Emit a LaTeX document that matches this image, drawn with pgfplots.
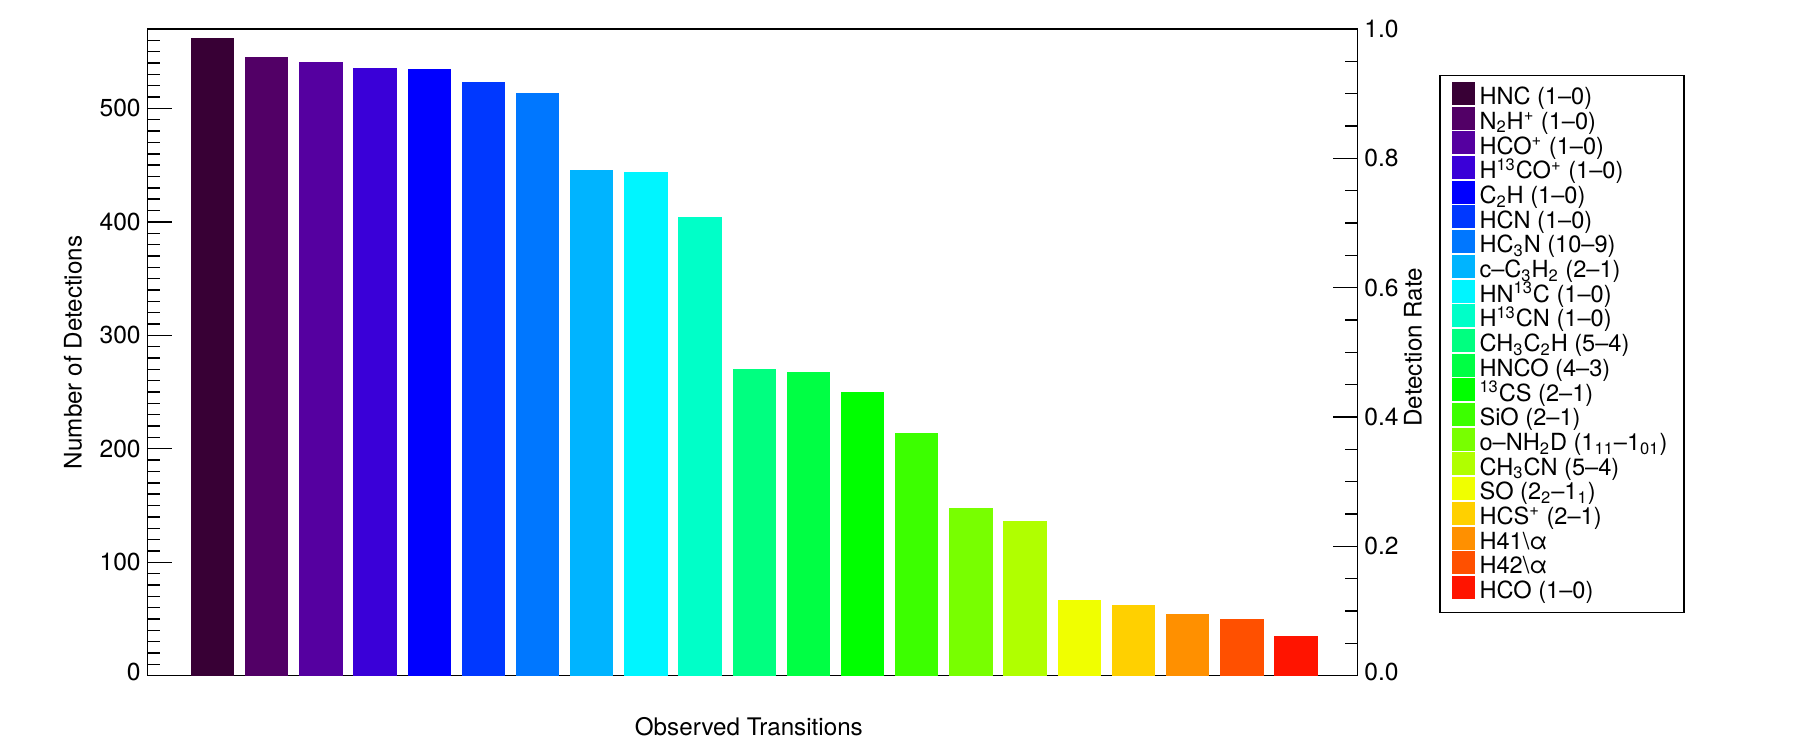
\documentclass[border=0pt]{standalone}
\usepackage{fontspec}
\setmainfont{TeX Gyre Heros}
\usepackage{pgfplots}
\pgfplotsset{compat=1.18}

% rainbow colour table, one colour per transition
\definecolor{c1}{RGB}{56,0,53}
\definecolor{c2}{RGB}{82,0,102}
\definecolor{c3}{RGB}{85,0,160}
\definecolor{c4}{RGB}{58,0,216}
\definecolor{c5}{RGB}{0,0,255}
\definecolor{c6}{RGB}{0,56,255}
\definecolor{c7}{RGB}{0,119,255}
\definecolor{c8}{RGB}{0,180,255}
\definecolor{c9}{RGB}{0,245,255}
\definecolor{c10}{RGB}{0,255,200}
\definecolor{c11}{RGB}{0,255,128}
\definecolor{c12}{RGB}{0,255,68}
\definecolor{c13}{RGB}{0,255,0}
\definecolor{c14}{RGB}{60,255,0}
\definecolor{c15}{RGB}{120,255,0}
\definecolor{c16}{RGB}{176,255,0}
\definecolor{c17}{RGB}{240,255,0}
\definecolor{c18}{RGB}{255,208,0}
\definecolor{c19}{RGB}{255,144,0}
\definecolor{c20}{RGB}{255,80,0}
\definecolor{c21}{RGB}{255,20,0}

\newcommand{\sub}[1]{\textsubscript{#1}}
\newcommand{\sups}[1]{\textsuperscript{#1}}

\begin{document}
\begin{tikzpicture}
\useasboundingbox (0,0) rectangle (900pt,375pt);

\pgfplotsset{
    bars/.style={ybar, bar width=0.8, bar shift=0pt, draw=none,
        legend image code/.code={\fill[##1] (0pt,-2.6pt) rectangle (11.5pt,8.9pt);}},
}

\begin{axis}[
    at={(73.85pt,37.15pt)}, anchor=south west,
    scale only axis, width=604.8pt, height=323.35pt,
    xmin=-0.196, xmax=22.131,
    ymin=0, ymax=570,
    xtick=\empty,
    minor xtick={1,...,21},
    xtick pos=left,
    ytick={0,100,200,300,400,500},
    yticklabels={\raisebox{4pt}{0},100,200,300,400,500},
    minor ytick={0,10,...,570},
    ytick pos=left,
    tick align=inside,
    major tick length=12pt, minor tick length=6pt,
    tick style={black, line width=0.7pt},
    axis line style={line width=0.7pt},
    tick label style={font=\fontsize{12.3}{14}\selectfont},
    label style={font=\fontsize{12.1}{14}\selectfont},
    xlabel={Observed Transitions},
    xlabel style={at={(axis description cs:0.497,-0.0917)}, anchor=base},
    ylabel={Number of Detections},
    ylabel style={at={(axis description cs:-0.0546,0.5)}, anchor=base},
    legend style={
        at={(axis description cs:1.0678,0.9289)}, anchor=north west,
        draw=black, line width=0.6pt,
        inner xsep=6pt, inner ysep=3.2pt,
        row sep=-2.8pt,
        font=\fontsize{11.8}{13}\selectfont,
        nodes={inner xsep=2.3pt, inner ysep=0pt, text height=8.7pt, text depth=3.8pt},
    },
    legend cell align=left,
]
\addplot[bars, fill=c1]  coordinates {(1,562)};
\addlegendentry{HNC (1--0)}
\addplot[bars, fill=c2]  coordinates {(2,545)};
\addlegendentry{N\sub{2}H\sups{+} (1--0)}
\addplot[bars, fill=c3]  coordinates {(3,541)};
\addlegendentry{HCO\sups{+} (1--0)}
\addplot[bars, fill=c4]  coordinates {(4,536)};
\addlegendentry{H\sups{13}CO\sups{+} (1--0)}
\addplot[bars, fill=c5]  coordinates {(5,535)};
\addlegendentry{C\sub{2}H (1--0)}
\addplot[bars, fill=c6]  coordinates {(6,523)};
\addlegendentry{HCN (1--0)}
\addplot[bars, fill=c7]  coordinates {(7,514)};
\addlegendentry{HC\sub{3}N (10--9)}
\addplot[bars, fill=c8]  coordinates {(8,446)};
\addlegendentry{c--C\sub{3}H\sub{2} (2--1)}
\addplot[bars, fill=c9]  coordinates {(9,444)};
\addlegendentry{HN\sups{13}C (1--0)}
\addplot[bars, fill=c10] coordinates {(10,404)};
\addlegendentry{H\sups{13}CN (1--0)}
\addplot[bars, fill=c11] coordinates {(11,270)};
\addlegendentry{CH\sub{3}C\sub{2}H (5--4)}
\addplot[bars, fill=c12] coordinates {(12,268)};
\addlegendentry{HNCO (4--3)}
\addplot[bars, fill=c13] coordinates {(13,250)};
\addlegendentry{\sups{13}CS (2--1)}
\addplot[bars, fill=c14] coordinates {(14,214)};
\addlegendentry{SiO (2--1)}
\addplot[bars, fill=c15] coordinates {(15,148)};
\addlegendentry{o--NH\sub{2}D (1\sub{11}--1\sub{01})}
\addplot[bars, fill=c16] coordinates {(16,136)};
\addlegendentry{CH\sub{3}CN (5--4)}
\addplot[bars, fill=c17] coordinates {(17,67)};
\addlegendentry{SO (2\sub{2}--1\sub{1})}
\addplot[bars, fill=c18] coordinates {(18,62)};
\addlegendentry{HCS\sups{+} (2--1)}
\addplot[bars, fill=c19] coordinates {(19,54)};
\addlegendentry{H41\textbackslash α}
\addplot[bars, fill=c20] coordinates {(20,50)};
\addlegendentry{H42\textbackslash α}
\addplot[bars, fill=c21] coordinates {(21,35)};
\addlegendentry{HCO (1--0)}
\end{axis}

% right-hand axis: detection rate
\begin{axis}[
    at={(73.85pt,37.15pt)}, anchor=south west,
    scale only axis, width=604.8pt, height=323.35pt,
    xmin=-0.196, xmax=22.131,
    ymin=0, ymax=1,
    hide x axis,
    axis y line*=right,
    ytick={0,0.2,0.4,0.6,0.8,1},
    yticklabels={\raisebox{4pt}{0.0},0.2,0.4,0.6,0.8,1.0},
    minor ytick={0.05,0.1,...,0.96},
    tick align=inside,
    major tick length=12pt, minor tick length=6pt,
    tick style={black, line width=0.7pt},
    axis line style={line width=0.7pt, -},
    tick label style={font=\fontsize{12.3}{14}\selectfont},
    label style={font=\fontsize{12.1}{14}\selectfont},
    ylabel={Detection Rate},
    ylabel style={at={(axis description cs:1.0532,0.508)}, anchor=base},
]
\addplot[draw=none] coordinates {(1,0)};
\end{axis}
\end{tikzpicture}
\end{document}
